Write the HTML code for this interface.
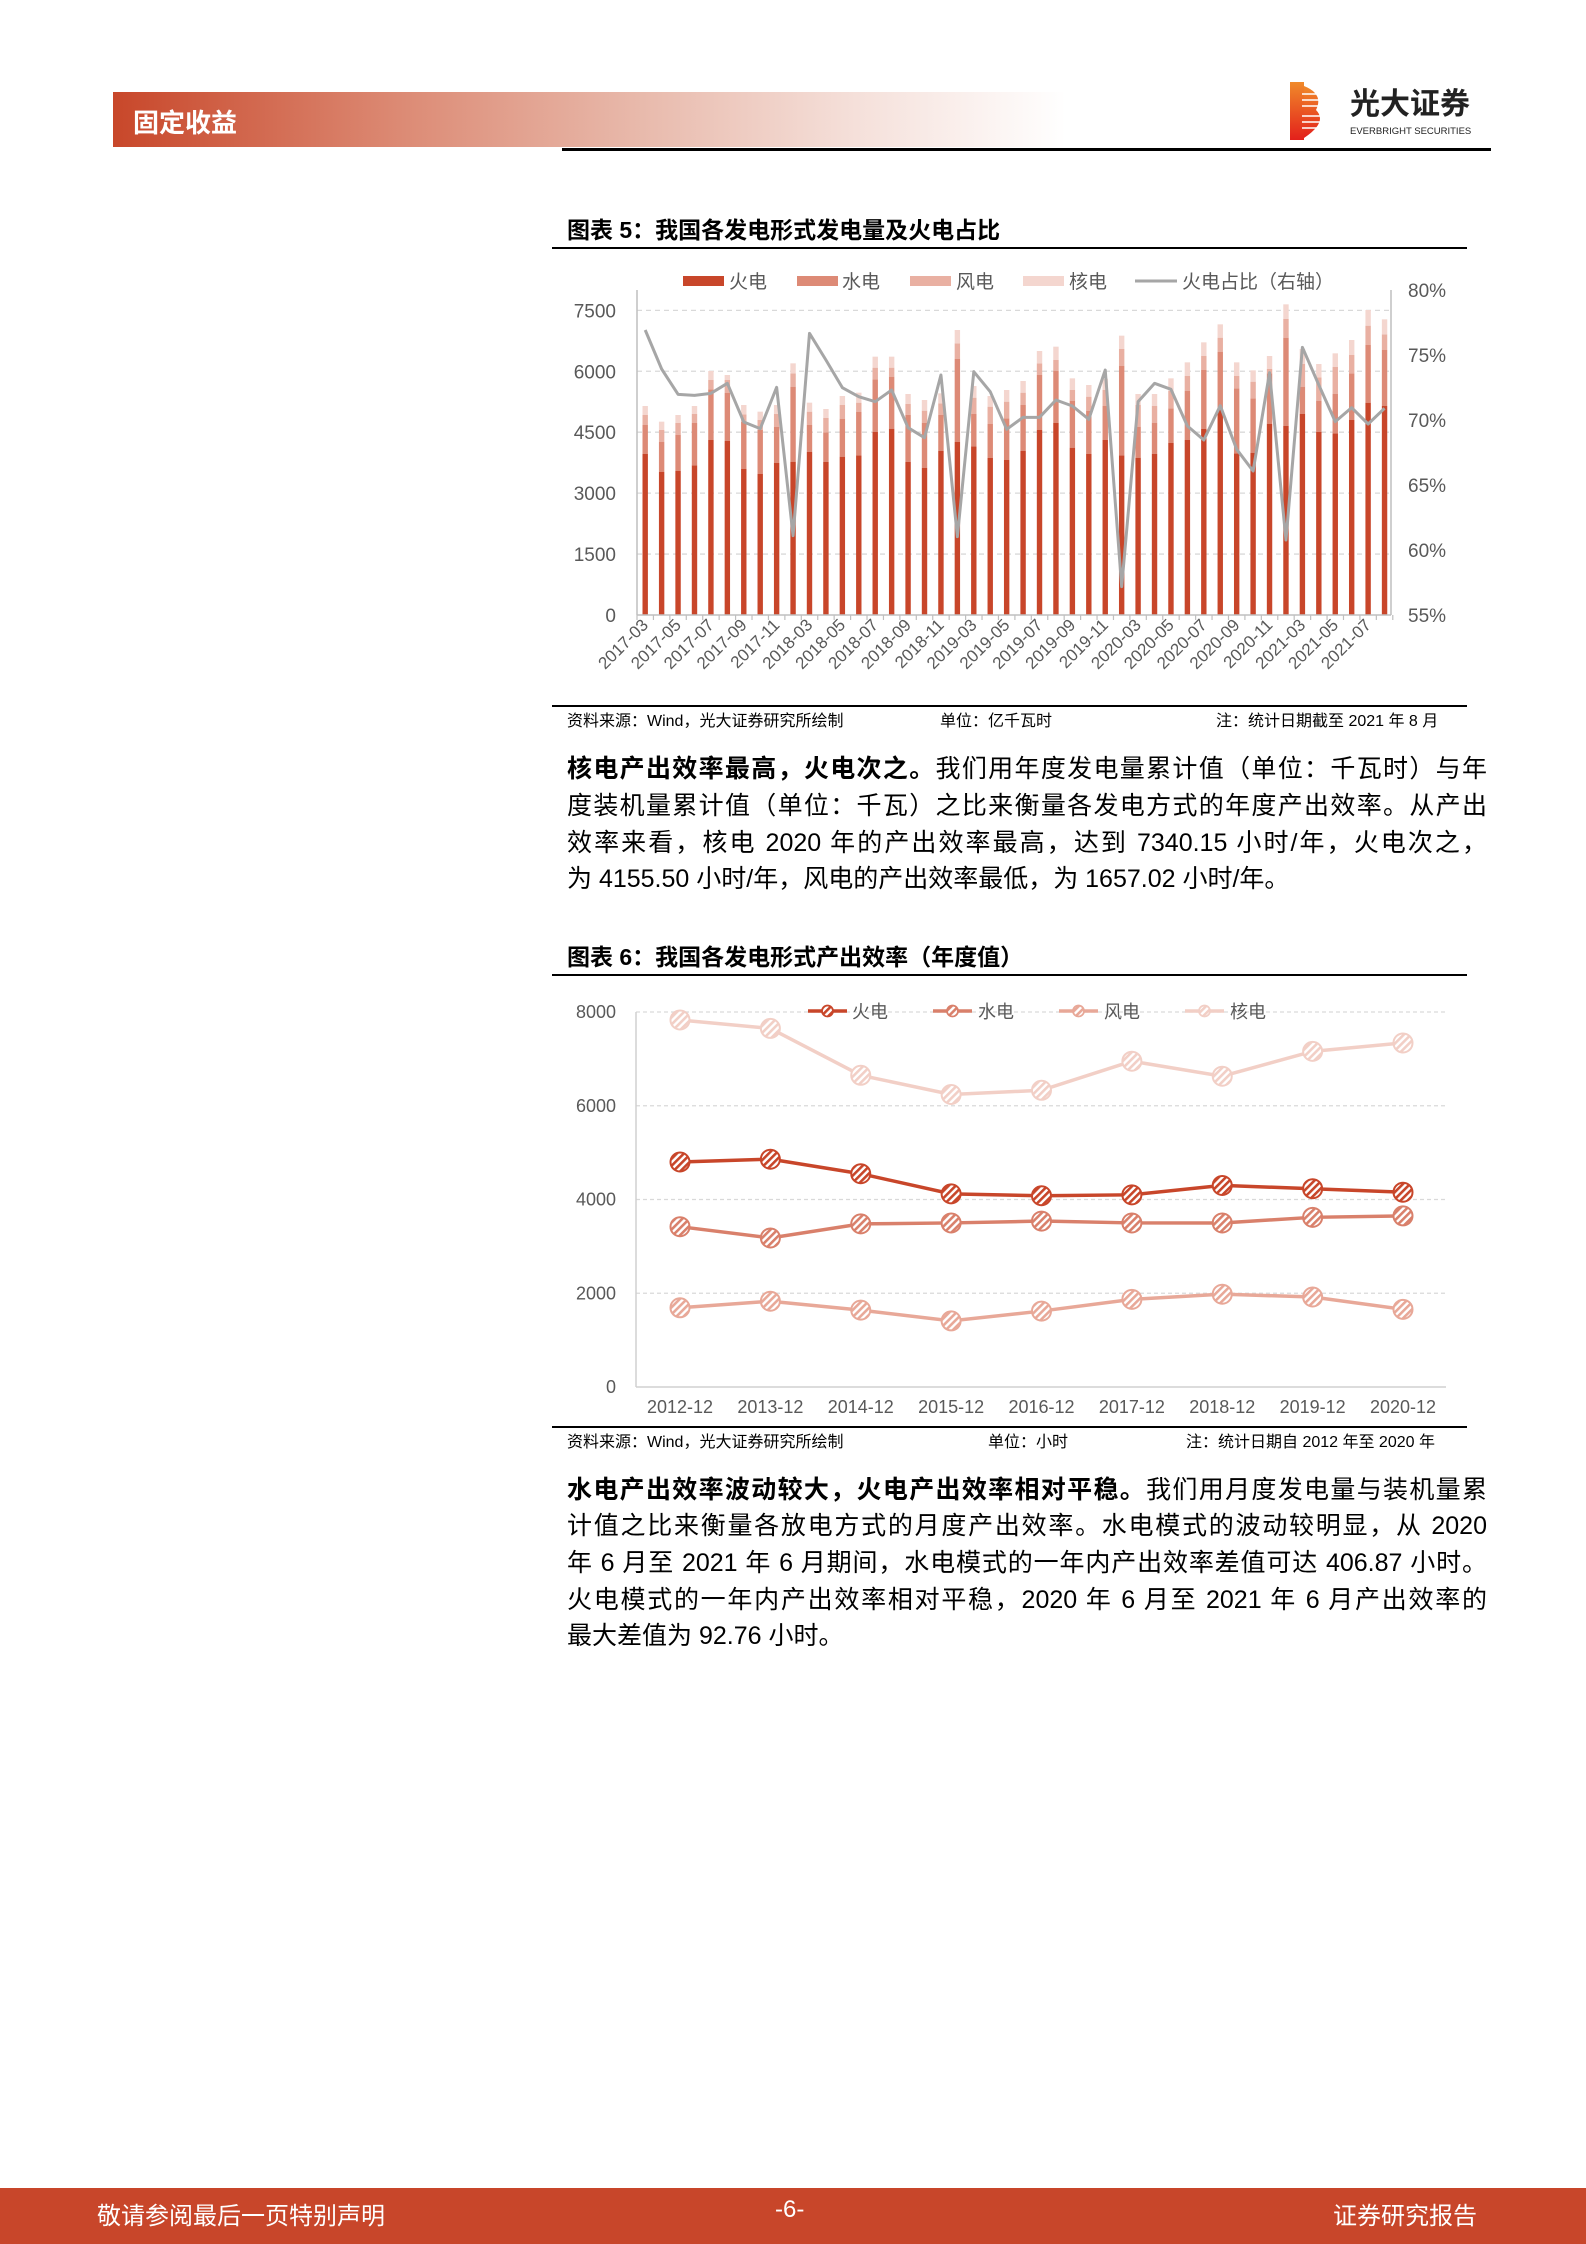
<!DOCTYPE html>
<html><head><meta charset="utf-8">
<style>
body{margin:0;background:#fff;}
#pg{position:relative;width:1586px;height:2244px;overflow:hidden;font-family:"Liberation Sans","Noto Sans CJK SC",sans-serif;color:#000;}
.abs{position:absolute;white-space:nowrap;}
.p{position:absolute;left:567px;width:920px;font-size:25px;line-height:25px;text-align:justify;text-align-last:justify;white-space:nowrap;}
.p.last{text-align-last:left;}
.t{font-weight:bold;font-size:23px;}
.src{font-size:16px;}
</style></head><body><div id="pg">
<div class="abs" style="left:113px;top:92px;width:953px;height:55px;background:linear-gradient(90deg,#c8472a 0%,#dc8a74 30%,#e8b9ab 55%,#f5e0da 78%,#fff 100%);"></div>
<div class="abs" style="left:133px;top:103px;font-size:26px;font-weight:bold;color:#fff;">固定收益</div>
<div class="abs" style="left:562px;top:148px;width:929px;height:3px;background:#000;"></div>
<svg class="abs" style="left:1290px;top:82px" width="200" height="60">
<defs><linearGradient id="lg" x1="0" y1="0" x2="0" y2="1"><stop offset="0" stop-color="#f08a2a"/><stop offset="1" stop-color="#e3201b"/></linearGradient></defs>
<rect x="0" y="0" width="14" height="58" fill="url(#lg)"/>
<path d="M14 4 Q34 12 26 28 Q38 40 14 56 Z" fill="url(#lg)"/>
<g stroke="#fff" stroke-width="1.5"><line x1="12" y1="12" x2="34" y2="12"/><line x1="12" y1="18" x2="34" y2="18"/><line x1="12" y1="24" x2="34" y2="24"/><line x1="12" y1="34" x2="34" y2="34"/><line x1="12" y1="40" x2="34" y2="40"/><line x1="12" y1="46" x2="34" y2="46"/></g>
<text x="60" y="32" font-size="30" font-weight="bold" fill="#222" font-family="Liberation Sans,Noto Sans CJK SC,sans-serif">光大证券</text>
<text x="60" y="52" font-size="9.5" fill="#222" font-family="Liberation Sans,sans-serif">EVERBRIGHT SECURITIES</text>
</svg>

<div class="abs t" style="left:567px;top:211px;">图表 5：我国各发电形式发电量及火电占比</div>
<div class="abs" style="left:552px;top:247px;width:915px;height:2px;background:#000;"></div>
<svg id="c1" class="abs" style="left:0;top:0" width="1586" height="720"></svg>
<div class="abs" style="left:552px;top:705px;width:915px;height:2px;background:#000;"></div>
<div class="abs src" style="left:567px;top:707px;">资料来源：Wind，光大证券研究所绘制</div>
<div class="abs src" style="left:940px;top:707px;">单位：亿千瓦时</div>
<div class="abs src" style="left:1216px;top:707px;">注：统计日期截至 2021 年 8 月</div>

<div class="p" style="top:757px;"><b>核电产出效率最高，火电次之。</b>我们用年度发电量累计值（单位：千瓦时）与年</div>
<div class="p" style="top:794px;">度装机量累计值（单位：千瓦）之比来衡量各发电方式的年度产出效率。从产出</div>
<div class="p" style="top:831px;">效率来看，核电 2020 年的产出效率最高，达到 7340.15 小时/年，火电次之，</div>
<div class="p last" style="top:867px;">为 4155.50 小时/年，风电的产出效率最低，为 1657.02 小时/年。</div>

<div class="abs t" style="left:567px;top:938px;">图表 6：我国各发电形式产出效率（年度值）</div>
<div class="abs" style="left:552px;top:974px;width:915px;height:2px;background:#000;"></div>
<svg id="c2" class="abs" style="left:0;top:980px" width="1586" height="450"></svg>
<div class="abs" style="left:552px;top:1426px;width:915px;height:2px;background:#000;"></div>
<div class="abs src" style="left:567px;top:1428px;">资料来源：Wind，光大证券研究所绘制</div>
<div class="abs src" style="left:988px;top:1428px;">单位：小时</div>
<div class="abs src" style="left:1186px;top:1428px;">注：统计日期自 2012 年至 2020 年</div>

<div class="p" style="top:1478px;"><b>水电产出效率波动较大，火电产出效率相对平稳。</b>我们用月度发电量与装机量累</div>
<div class="p" style="top:1514px;">计值之比来衡量各放电方式的月度产出效率。水电模式的波动较明显，从 2020</div>
<div class="p" style="top:1551px;">年 6 月至 2021 年 6 月期间，水电模式的一年内产出效率差值可达 406.87 小时。</div>
<div class="p" style="top:1588px;">火电模式的一年内产出效率相对平稳，2020 年 6 月至 2021 年 6 月产出效率的</div>
<div class="p last" style="top:1624px;">最大差值为 92.76 小时。</div>

<div class="abs" style="left:0;top:2188px;width:1586px;height:56px;background:#c8462a;"></div>
<div class="abs" style="left:97px;top:2196px;font-size:24px;color:#fff;">敬请参阅最后一页特别声明</div>
<div class="abs" style="left:775px;top:2196px;font-size:24px;color:#fff;">-6-</div>
<div class="abs" style="left:1333px;top:2196px;font-size:24px;color:#fff;">证券研究报告</div>
</div>
<script>
var NS="http://www.w3.org/2000/svg";
function el(p,t,a,txt){var e=document.createElementNS(NS,t);for(var k in a)e.setAttribute(k,a[k]);if(txt!=null)e.textContent=txt;p.appendChild(e);return e;}
var F="Liberation Sans,Noto Sans CJK SC,sans-serif";
var s=document.getElementById('c1');
var C=["#c8462a","#dd8a76","#e9b0a2","#f4d6cf"];
var bars=[[492,405,375,348],[546,456,420,395],[543,435,399,375],[526,399,372,348],[450,298,270,243],[453,309,270,255],[537,395,373,345],[552,420,390,365],[519,411,372,345],[515,290,250,220],[486,405,365,338],[516,427,384,357],[500,386,345,318],[496,365,338,308],[426,268,233,200],[416,260,233,200],[516,375,342,312],[534,398,362,330],[483,375,340,310],[456,207,160,120],[469,372,323,288],[504,402,350,318],[510,385,335,300],
[483,345,308,273],[420,255,220,183],[399,242,210,170],[473,332,300,265],[492,362,320,285],[450,348,300,266],[496,228,177,137],[503,410,345,312],[492,398,348,312],[459,355,303,265],[450,302,258,217],[417,240,198,157],[360,185,143,103],[490,295,258,217],[488,325,275,241],[401,250,237,198],[408,143,87,43],[372,290,222,177],[426,332,262,222],[430,312,231,190],[390,250,195,150],[338,165,107,60],[348,180,133,88]];
var line=[120,237,313,316,310,280,396,416,292,737,130,210,293,320,335,300,413,443,255,740,245,305,418,382,382,330,348,388,240,890,335,280,298,408,450,347,478,543,248,750,172,285,395,353,402,355];
var y0=615,x0=637,cw=16.43;
function cx(i){return x0+8.2+cw*i;}
for(var v=1500;v<=7500;v+=1500){var y=y0-v*60.93/1500;el(s,'line',{x1:x0,x2:1391,y1:y,y2:y,stroke:"#d9d9d9","stroke-dasharray":"5,4","stroke-width":1.3});}
for(var v=0;v<=7500;v+=1500){var y=y0-v*60.93/1500;el(s,'text',{x:616,y:y+7,"text-anchor":"end","font-size":19,fill:"#595959","font-family":F},v);}
for(var k=0;k<6;k++){var y=y0-k*65;el(s,'text',{x:1408,y:y+7,"font-size":19,fill:"#595959","font-family":F},(55+5*k)+"%");}
bars.forEach(function(b,i){var prev=y0;for(var j=0;j<4;j++){var yt=290+b[j]/3;el(s,'rect',{x:cx(i)-2.7,y:yt,width:5.4,height:Math.max(0,prev-yt),fill:C[j]});prev=yt;}});
var pts=line.map(function(z,i){return cx(i)+","+(290+z/3);}).join(" ");
el(s,'polyline',{points:pts,fill:"none",stroke:"#a6a6a6","stroke-width":3,"stroke-linejoin":"round"});
el(s,'line',{x1:x0,x2:x0,y1:290,y2:y0,stroke:"#bfbfbf","stroke-width":1.5});
el(s,'line',{x1:1391,x2:1391,y1:290,y2:y0,stroke:"#bfbfbf","stroke-width":1.5});
el(s,'line',{x1:x0,x2:1391,y1:y0,y2:y0,stroke:"#bfbfbf","stroke-width":1.5});
for(var i=0;i<=46;i++){el(s,'line',{x1:x0+cw*i,x2:x0+cw*i,y1:y0,y2:y0+5,stroke:"#bfbfbf","stroke-width":1.2});}
var labs=["2017-03","2017-05","2017-07","2017-09","2017-11","2018-03","2018-05","2018-07","2018-09","2018-11","2019-03","2019-05","2019-07","2019-09","2019-11","2020-03","2020-05","2020-07","2020-09","2020-11","2021-03","2021-05","2021-07"];
labs.forEach(function(l,k){var x=cx(2*k)+4,y=626;el(s,'text',{x:x,y:y,"text-anchor":"end","font-size":17,fill:"#595959","font-family":F,transform:"rotate(-45 "+x+" "+y+")"},l);});
var lg=[[683,729,"火电"],[797,842,"水电"],[910,956,"风电"],[1023,1069,"核电"]];
lg.forEach(function(g,j){el(s,'rect',{x:g[0],y:276,width:41,height:10,fill:C[j]});el(s,'text',{x:g[1],y:288,"font-size":19,fill:"#595959","font-family":F},g[2]);});
el(s,'line',{x1:1135,x2:1177,y1:281,y2:281,stroke:"#a6a6a6","stroke-width":3});
el(s,'text',{x:1182,y:288,"font-size":19,fill:"#595959","font-family":F},"火电占比（右轴）");
var s2=document.getElementById('c2');var off=980;
var defs=el(s2,'defs',{});
var C2=["#c8462a","#d9806b","#e8a898","#f2cfc6"];
C2.forEach(function(c,j){var p=el(defs,'pattern',{id:"h"+j,width:5,height:5,patternUnits:"userSpaceOnUse",patternTransform:"rotate(45)"});el(p,'rect',{width:5,height:5,fill:"#fff"});el(p,'rect',{width:2.6,height:5,fill:c});});
var Y0=1387-off,sc=375/8000,dx=(1403-680)/8;
for(var v=2000;v<=8000;v+=2000){var y=Y0-v*sc;el(s2,'line',{x1:636,x2:1446,y1:y,y2:y,stroke:"#d9d9d9","stroke-dasharray":"4,3","stroke-width":1.3});}
for(var v=0;v<=8000;v+=2000){var y=Y0-v*sc;el(s2,'text',{x:616,y:y+6,"text-anchor":"end","font-size":18,fill:"#595959","font-family":F},v);}
el(s2,'line',{x1:636,x2:1446,y1:Y0,y2:Y0,stroke:"#d0d0d0","stroke-width":1.5});
el(s2,'line',{x1:636,x2:636,y1:Y0-8000*sc,y2:Y0,stroke:"#d0d0d0","stroke-width":1.5});
var D=[[4800,4860,4550,4120,4080,4100,4300,4230,4155],[3420,3180,3480,3500,3540,3500,3500,3620,3650],[1690,1830,1640,1410,1620,1870,1980,1920,1657],[7830,7650,6650,6240,6330,6950,6630,7160,7340]];
var yrs=["2012-12","2013-12","2014-12","2015-12","2016-12","2017-12","2018-12","2019-12","2020-12"];
yrs.forEach(function(l,i){el(s2,'text',{x:680+dx*i,y:1413-off,"text-anchor":"middle","font-size":18,fill:"#595959","font-family":F},l);});
[3,2,1,0].forEach(function(j){var pts=D[j].map(function(v,i){return (680+dx*i)+","+(Y0-v*sc);}).join(" ");
el(s2,'polyline',{points:pts,fill:"none",stroke:C2[j],"stroke-width":3.5});
D[j].forEach(function(v,i){el(s2,'circle',{cx:680+dx*i,cy:Y0-v*sc,r:9.5,fill:"url(#h"+j+")",stroke:C2[j],"stroke-width":2});});});
var lg2=[[808,852,"火电"],[933,978,"水电"],[1059,1104,"风电"],[1185,1230,"核电"]];
lg2.forEach(function(g,j){var y=1011-off;el(s2,'line',{x1:g[0],x2:g[0]+39,y1:y,y2:y,stroke:C2[j],"stroke-width":3.5});el(s2,'circle',{cx:g[0]+19.5,cy:y,r:5.5,fill:"url(#h"+j+")",stroke:C2[j],"stroke-width":1.8});el(s2,'text',{x:g[1],y:y+7,"font-size":18,fill:"#595959","font-family":F},g[2]);});
</script>
</body></html>
